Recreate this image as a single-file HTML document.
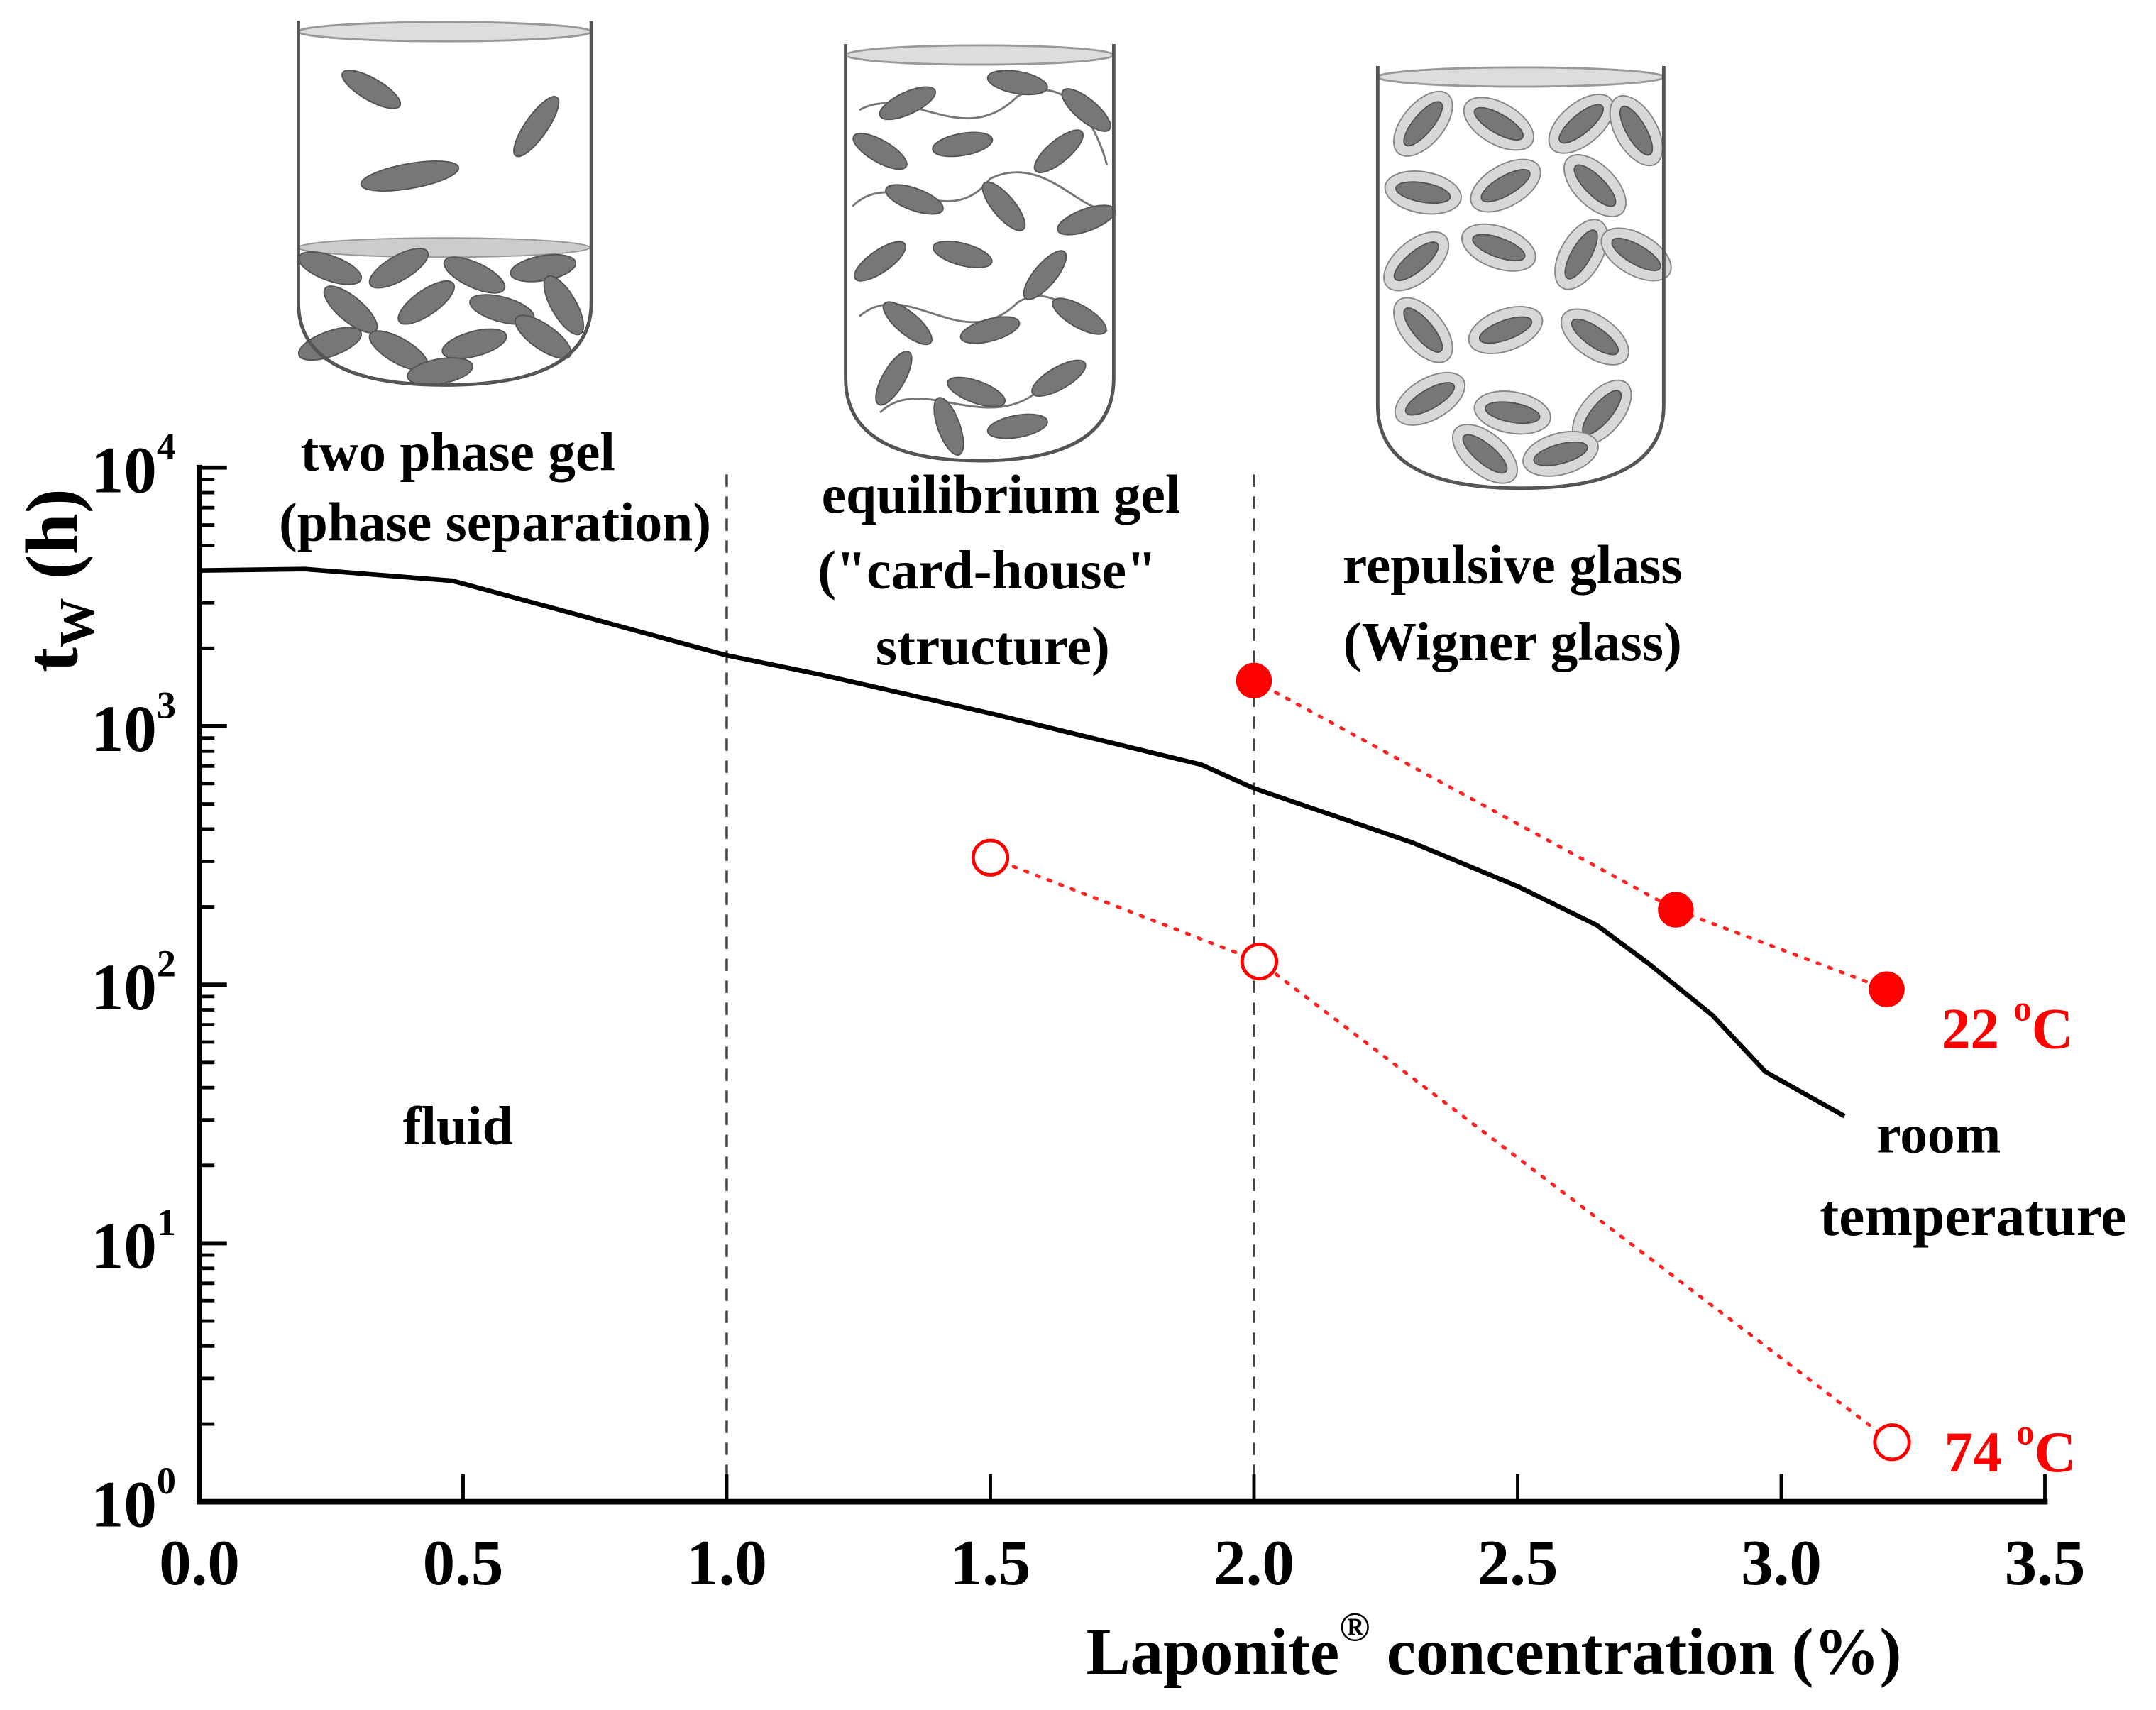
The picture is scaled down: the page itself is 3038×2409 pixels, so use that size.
<!DOCTYPE html>
<html><head><meta charset="utf-8"><style>
html,body{margin:0;padding:0;background:#fff;}
svg{display:block;}
text{font-family:"Liberation Serif",serif;font-weight:bold;}
</style></head><body>
<svg id="chart" width="3038" height="2409" viewBox="0 0 1568 1243.4" xmlns="http://www.w3.org/2000/svg">
<g id="beakers"></g>
<g id="plot"></g>
</svg>
<script>
// ---- data ----
const curveX = [0, 0.2, 0.48, 1.0, 1.18, 1.5, 1.9, 2.0, 2.3, 2.5, 2.65, 2.75, 2.87, 2.97, 3.12];
const curveY = [4000, 4050, 3650, 1880, 1580, 1120, 710, 575, 355, 240, 170, 120, 76, 46, 31];
const hotX = [2.0, 2.8, 3.2];          // 22 °C filled
const hotY = [1500, 195, 96];
const coldX = [1.5, 2.01, 3.21];       // 74 °C open
const coldY = [310, 123, 1.7];
const xTicks = [0, 0.5, 1.0, 1.5, 2.0, 2.5, 3.0, 3.5];
const xTickLabels = ["0.0","0.5","1.0","1.5","2.0","2.5","3.0","3.5"];
const yDecades = [0, 1, 2, 3, 4];
const boundaries = [1.0, 2.0];

const NS = "http://www.w3.org/2000/svg";
const X0 = 145, XPU = 383.5, Y0 = 1092, YPD = 188;
const sx = v => X0 + v * XPU;
const sy = v => Y0 - Math.log10(v) * YPD;
const plot = document.getElementById('plot');
function mk(tag, attrs, parent, txt) {
  const e = document.createElementNS(NS, tag);
  for (const k in attrs) e.setAttribute(k, attrs[k]);
  if (txt !== undefined) e.textContent = txt;
  (parent || plot).appendChild(e);
  return e;
}

boundaries.forEach(b => {
  const l = mk('line', {x1: sx(b), x2: sx(b), y1: 345, y2: Y0, stroke: '#444', 'stroke-width': 1.8, 'stroke-dasharray': '9,7'});
  
  
});

const yAxis = mk('line', {x1: X0, x2: X0, y1: 338, y2: Y0 + 2, stroke: '#000', 'stroke-width': 4});


const xAxis = mk('line', {x1: X0 - 2, x2: sx(3.5) + 2, y1: Y0, y2: Y0, stroke: '#000', 'stroke-width': 4});



xTicks.forEach((t, i) => {
  const tk = mk('line', {x1: sx(t), x2: sx(t), y1: Y0, y2: Y0 - 20, stroke: '#000', 'stroke-width': 2.5});
  
  
  const lb = mk('text', {x: sx(t), y: 1152, 'font-size': 47, 'text-anchor': 'middle'}, plot, xTickLabels[i]);
  
  
});

yDecades.forEach(d => {
  const y = Y0 - d * YPD;
  const tk = mk('line', {x1: X0, x2: X0 + 20, y1: y, y2: y, stroke: '#000', 'stroke-width': 3});
  
  
  if (d < 4) for (let m = 2; m <= 9; m++) {
    const ym = Y0 - (d + Math.log10(m)) * YPD;
    const mt = mk('line', {x1: X0, x2: X0 + 11, y1: ym, y2: ym, stroke: '#000', 'stroke-width': 2.5});
    
    
  }
  const lb = mk('text', {x: 128, y: y + 18, 'font-size': 48, 'text-anchor': 'end'}, plot);
  
  
  lb.appendChild(document.createTextNode('10'));
  mk('tspan', {dy: -24, 'font-size': 28}, lb, String(d));
});

let dstr = curveX.map((x, i) => (i ? 'L' : 'M') + sx(x).toFixed(1) + ',' + sy(curveY[i]).toFixed(1)).join(' ');
const curve = mk('path', {d: dstr, fill: 'none', stroke: '#000', 'stroke-width': 3.4, 'stroke-linejoin': 'round'});



function series(xs, ys, filled, name) {
  const d = xs.map((x, i) => (i ? 'L' : 'M') + sx(x).toFixed(1) + ',' + sy(ys[i]).toFixed(1)).join(' ');
  const p = mk('path', {d: d, fill: 'none', stroke: '#f22', 'stroke-width': 2.5, 'stroke-dasharray': '2,7', 'stroke-linecap': 'round'});
  
  
  xs.forEach((x, i) => {
    const c = mk('circle', {cx: sx(x), cy: sy(ys[i]), r: 12.5, fill: filled ? '#f00' : '#fff', stroke: '#f00', 'stroke-width': filled ? 1 : 2.5});
    
    
  });
}
series(hotX, hotY, true, 'series-22c');
series(coldX, coldY, false, 'series-74c');

function label(txt, x, y, size, name, fill, anchor) {
  const t = mk('text', {x: x, y: y, 'font-size': size, 'text-anchor': anchor || 'middle', fill: fill || '#000'}, plot, txt);
  
  
  return t;
}
label('two phase gel', 333, 342, 40, 'region-label-two-phase');
label('(phase separation)', 360, 393, 40, 'region-label-two-phase-sub');
label('equilibrium gel', 728, 373, 40, 'region-label-equilibrium');
label('("card-house"', 718, 428, 40, 'region-label-equilibrium-sub');
label('structure)', 722, 483, 40, 'region-label-equilibrium-sub2');
label('repulsive glass', 1100, 424, 40, 'region-label-repulsive');
label('(Wigner glass)', 1100, 480, 40, 'region-label-repulsive-sub');
label('fluid', 333, 832, 40, 'region-label-fluid');
label('room', 1410, 838, 40, 'curve-label-room');
label('temperature', 1435, 898, 42, 'curve-label-temperature');
const t22 = label('22 ', 1412, 762, 42, 'legend-22c', '#f00', 'start');
mk('tspan', {dy: -20, 'font-size': 26}, t22, 'o');
mk('tspan', {dy: 20}, t22, 'C');
const t74 = label('74 ', 1414, 1070, 42, 'legend-74c', '#f00', 'start');
mk('tspan', {dy: -20, 'font-size': 26}, t74, 'o');
mk('tspan', {dy: 20}, t74, 'C');

const xt = label('Laponite', 790, 1217, 48, 'x-axis-title', '#000', 'start');
mk('tspan', {dy: -24, 'font-size': 30}, xt, '®');
mk('tspan', {dy: 24}, xt, ' concentration (%)');

const yt = mk('text', {x: 0, y: 0, 'font-size': 54, 'text-anchor': 'middle', transform: 'translate(56,422) rotate(-90)'}, plot, 't');


mk('tspan', {dy: 12, 'font-size': 36}, yt, 'W');
mk('tspan', {dy: -12}, yt, ' (h)');

// ---- beakers (illustration) ----
const bk = document.getElementById('beakers');
function beaker(x1, x2, top, bottom, name) {
  const g = mk('g', {}, bk);
  
  
  const mid = (x1 + x2) / 2;
  mk('ellipse', {cx: mid, cy: top + 8, rx: (x2 - x1) / 2, ry: 7, fill: '#ddd', stroke: '#999', 'stroke-width': 1.5}, g);
  return g;
}
function outline(g, x1, x2, top, bottom) {
  const mid = (x1 + x2) / 2;
  mk('path', {d: `M${x1},${top} L${x1},${bottom - 60} Q${x1},${bottom} ${mid},${bottom} Q${x2},${bottom} ${x2},${bottom - 60} L${x2},${top}`, fill: 'none', stroke: '#555', 'stroke-width': 2.5}, g);
}
function platelet(g, cx, cy, rx, ry, ang, halo) {
  if (halo) mk('ellipse', {cx: cx, cy: cy, rx: rx + 8, ry: rx * 0.75, fill: '#d8d8d8', stroke: '#888', 'stroke-width': 1, transform: `rotate(${ang} ${cx} ${cy})`}, g);
  mk('ellipse', {cx: cx, cy: cy, rx: rx, ry: ry, fill: '#777', stroke: '#555', 'stroke-width': 1, transform: `rotate(${ang} ${cx} ${cy})`}, g);
}
const b1 = beaker(217, 430, 15, 280, 'beaker-two-phase');
mk('ellipse', {cx: 323, cy: 180, rx: 106, ry: 7, fill: '#ccc', stroke: '#999'}, b1);
platelet(b1, 270, 65, 24, 8, 30); platelet(b1, 390, 92, 26, 8, -55); platelet(b1, 298, 128, 36, 9, -10);
const sed = [[240,195,20],[290,195,-30],[345,200,25],[395,195,-10],[255,225,40],[310,220,-35],[365,225,15],[410,222,60],[240,250,-20],[290,255,30],[345,250,-15],[395,245,35],[320,270,-10]];
sed.forEach(s => platelet(b1, s[0], s[1], 24, 9, s[2]));
outline(b1, 217, 430, 15, 280);
const b2 = beaker(615, 810, 32, 335, 'beaker-equilibrium-gel');
mk('path', {d: 'M625,80 C660,60 700,110 740,70 C780,50 800,100 805,120 M620,150 C650,120 690,170 720,130 C760,110 790,160 805,150 M625,230 C660,200 700,260 740,220 C770,200 800,250 805,240 M640,300 C670,270 720,320 760,280', fill: 'none', stroke: '#777', 'stroke-width': 1.5}, b2);
const g2 = [[660,75,-25],[740,60,10],[790,80,40],[640,110,30],[700,105,-10],[770,110,-40],[665,145,20],[730,150,50],[790,160,-20],[640,190,-35],[700,185,15],[760,200,-50],[660,235,40],[720,240,-15],[785,230,30],[650,275,-60],[710,285,20],[770,275,-30],[690,310,70],[740,310,-10]];
g2.forEach(s => platelet(b2, s[0], s[1], 22, 8, s[2]));
outline(b2, 615, 810, 32, 335);
const b3 = beaker(1002, 1210, 48, 355, 'beaker-repulsive-glass');
const g3 = [[1035,90,-50],[1090,90,30],[1150,90,-40],[1190,95,60],[1035,140,10],[1095,135,-30],[1160,135,45],[1030,190,-40],[1090,180,20],[1150,185,-60],[1190,185,30],[1035,240,50],[1095,240,-20],[1160,245,35],[1040,290,-30],[1100,300,10],[1165,300,-50],[1080,330,40],[1135,330,-15]];
g3.forEach(s => platelet(b3, s[0], s[1], 20, 7, s[2], true));
outline(b3, 1002, 1210, 48, 355);
</script>
</body></html>
